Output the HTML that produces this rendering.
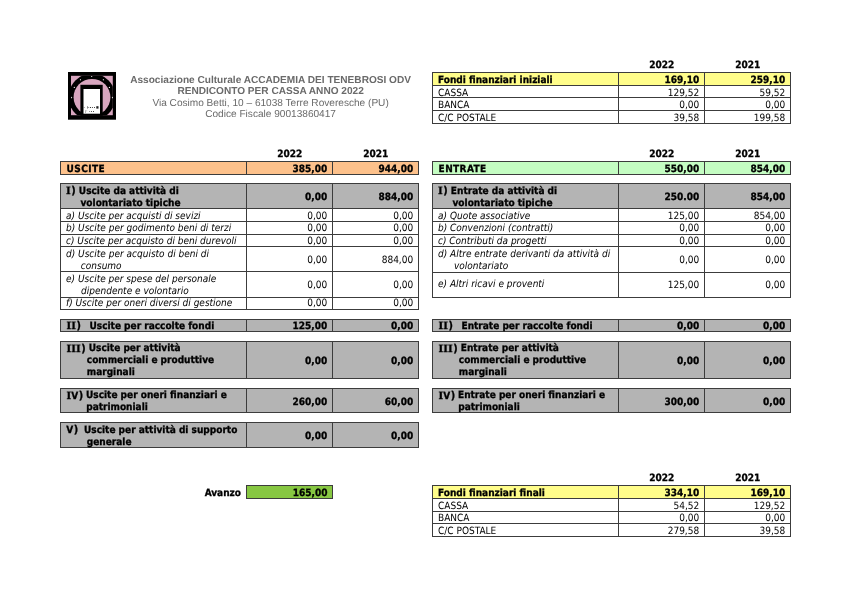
<!DOCTYPE html>
<html><head><meta charset="utf-8"><title>Rendiconto per cassa 2022</title>
<style>
html,body{margin:0;padding:0;background:#fff;}
body{width:850px;height:601px;overflow:hidden;}
svg{display:block;will-change:transform;font-family:"DejaVu Sans Condensed","DejaVu Sans",sans-serif;font-size:10px;}
</style></head><body>
<svg width="850" height="601" viewBox="0 0 850 601" shape-rendering="crispEdges" text-rendering="geometricPrecision">
<rect x="0" y="0" width="850" height="601" fill="#fff"/>

<g shape-rendering="geometricPrecision">
<rect x="68" y="72" width="48" height="47.7" fill="#000"/>
<rect x="71" y="75.8" width="41.8" height="39.4" fill="#d8a6bf"/>
<clipPath id="lc"><rect x="71" y="75.8" width="41.8" height="39.4"/></clipPath>
<g clip-path="url(#lc)">
<circle cx="92" cy="97" r="23.5" fill="#000"/>
<circle cx="92" cy="97.3" r="18.4" fill="#d8a6bf"/>
</g>
<rect x="80.4" y="84.8" width="22.3" height="31" fill="#000"/>
<rect x="83.5" y="89" width="16.5" height="24.7" fill="#fff"/>
<g fill="#fff">
<ellipse cx="91.7" cy="76.6" rx="0.6" ry="0.5"/>
<ellipse cx="80.4" cy="79.8" rx="0.5" ry="0.8"/><ellipse cx="103.3" cy="79.8" rx="0.5" ry="0.8"/>
<ellipse cx="74.3" cy="87.4" rx="0.6" ry="0.6"/><ellipse cx="109.4" cy="87.4" rx="0.6" ry="0.6"/>
<ellipse cx="71.6" cy="97.6" rx="0.5" ry="0.8"/><ellipse cx="112.4" cy="97.6" rx="0.5" ry="0.8"/>
</g>
<g fill="#111">
<circle cx="84.2" cy="107.4" r="0.45"/><rect x="87.2" y="106.2" width="0.8" height="2.4" fill="#777"/><rect x="87.6" y="107" width="1.4" height="0.7" fill="#777"/>
<circle cx="90.4" cy="107.5" r="0.6"/><circle cx="92.4" cy="107.5" r="0.5"/><circle cx="94.5" cy="107.4" r="0.5"/>
<rect x="96.3" y="106.2" width="2.2" height="2.4" fill="#222"/>
<circle cx="89.4" cy="111.4" r="0.45"/><circle cx="91.4" cy="111.4" r="0.5"/><circle cx="93.5" cy="111.4" r="0.5"/>
<rect x="85.2" y="110.2" width="0.7" height="2.8" fill="#999"/><rect x="86" y="110.6" width="1.2" height="0.6" fill="#aaa"/>
</g>
</g>

<text x="270.6" y="82.7" font-weight="bold" text-anchor="middle" font-size="10.1" font-family='"Liberation Sans",Arial,sans-serif' fill="#6a6a6a">Associazione Culturale ACCADEMIA DEI TENEBROSI ODV</text>
<text x="270.6" y="93.7" font-weight="bold" text-anchor="middle" font-size="10.1" font-family='"Liberation Sans",Arial,sans-serif' fill="#6a6a6a">RENDICONTO PER CASSA ANNO 2022</text>
<text x="270.6" y="105.7" text-anchor="middle" font-size="10.1" font-family='"Liberation Sans",Arial,sans-serif' fill="#6a6a6a">Via Cosimo Betti, 10 – 61038 Terre Roveresche (PU)</text>
<text x="270.6" y="117" text-anchor="middle" font-size="10.1" font-family='"Liberation Sans",Arial,sans-serif' fill="#6a6a6a">Codice Fiscale 90013860417</text>
<text x="661.7" y="67.9" font-weight="bold" text-anchor="middle" stroke="#000" stroke-width="0.3">2022</text>
<text x="747.7" y="67.9" font-weight="bold" text-anchor="middle" stroke="#000" stroke-width="0.3">2021</text>
<rect x="432" y="72" width="359" height="13" fill="#fffd8a"/>
<rect x="432" y="72" width="359" height="1" fill="#3c3c3c"/>
<rect x="432" y="85" width="359" height="1" fill="#3c3c3c"/>
<rect x="432" y="97" width="359" height="1" fill="#3c3c3c"/>
<rect x="432" y="110" width="359" height="1" fill="#3c3c3c"/>
<rect x="432" y="123" width="359" height="1" fill="#3c3c3c"/>
<rect x="432" y="72" width="1" height="52" fill="#3c3c3c"/>
<rect x="618" y="72" width="1" height="52" fill="#3c3c3c"/>
<rect x="704" y="72" width="1" height="52" fill="#3c3c3c"/>
<rect x="790" y="72" width="1" height="52" fill="#3c3c3c"/>
<text x="438" y="82.9" font-weight="bold" stroke="#000" stroke-width="0.3">Fondi finanziari iniziali</text>
<text x="699.2" y="82.9" font-weight="bold" text-anchor="end" stroke="#000" stroke-width="0.3">169,10</text>
<text x="785.2" y="82.9" font-weight="bold" text-anchor="end" stroke="#000" stroke-width="0.3">259,10</text>
<text x="438" y="95.8" >CASSA</text>
<text x="699.2" y="95.8" text-anchor="end">129,52</text>
<text x="785.2" y="95.8" text-anchor="end">59,52</text>
<text x="438" y="108.1" >BANCA</text>
<text x="699.2" y="108.1" text-anchor="end">0,00</text>
<text x="785.2" y="108.1" text-anchor="end">0,00</text>
<text x="438" y="120.7" >C/C POSTALE</text>
<text x="699.2" y="120.7" text-anchor="end">39,58</text>
<text x="785.2" y="120.7" text-anchor="end">199,58</text>
<text x="661.7" y="481.2" font-weight="bold" text-anchor="middle" stroke="#000" stroke-width="0.3">2022</text>
<text x="747.7" y="481.2" font-weight="bold" text-anchor="middle" stroke="#000" stroke-width="0.3">2021</text>
<rect x="432" y="485" width="359" height="13" fill="#fffd8a"/>
<rect x="432" y="485" width="359" height="1" fill="#3c3c3c"/>
<rect x="432" y="498" width="359" height="1" fill="#3c3c3c"/>
<rect x="432" y="511" width="359" height="1" fill="#3c3c3c"/>
<rect x="432" y="523" width="359" height="1" fill="#3c3c3c"/>
<rect x="432" y="536" width="359" height="1" fill="#3c3c3c"/>
<rect x="432" y="485" width="1" height="52" fill="#3c3c3c"/>
<rect x="618" y="485" width="1" height="52" fill="#3c3c3c"/>
<rect x="704" y="485" width="1" height="52" fill="#3c3c3c"/>
<rect x="790" y="485" width="1" height="52" fill="#3c3c3c"/>
<text x="438" y="495.8" font-weight="bold" stroke="#000" stroke-width="0.3">Fondi finanziari finali</text>
<text x="699.2" y="495.8" font-weight="bold" text-anchor="end" stroke="#000" stroke-width="0.3">334,10</text>
<text x="785.2" y="495.8" font-weight="bold" text-anchor="end" stroke="#000" stroke-width="0.3">169,10</text>
<text x="438" y="508.9" >CASSA</text>
<text x="699.2" y="508.9" text-anchor="end">54,52</text>
<text x="785.2" y="508.9" text-anchor="end">129,52</text>
<text x="438" y="521.4" >BANCA</text>
<text x="699.2" y="521.4" text-anchor="end">0,00</text>
<text x="785.2" y="521.4" text-anchor="end">0,00</text>
<text x="438" y="534.1" >C/C POSTALE</text>
<text x="699.2" y="534.1" text-anchor="end">279,58</text>
<text x="785.2" y="534.1" text-anchor="end">39,58</text>
<text x="289.7" y="157.4" font-weight="bold" text-anchor="middle" stroke="#000" stroke-width="0.3">2022</text>
<text x="375.7" y="157.4" font-weight="bold" text-anchor="middle" stroke="#000" stroke-width="0.3">2021</text>
<rect x="60" y="161" width="359" height="14" fill="#fdc18b"/>
<rect x="60" y="161" width="359" height="1" fill="#3c3c3c"/>
<rect x="60" y="174" width="359" height="1" fill="#3c3c3c"/>
<rect x="60" y="161" width="1" height="14" fill="#3c3c3c"/>
<rect x="246" y="161" width="1" height="14" fill="#3c3c3c"/>
<rect x="332" y="161" width="1" height="14" fill="#3c3c3c"/>
<rect x="418" y="161" width="1" height="14" fill="#3c3c3c"/>
<text x="66.6" y="171.9" font-weight="bold" letter-spacing="0.4" stroke="#000" stroke-width="0.3">USCITE</text>
<text x="327.2" y="171.8" font-weight="bold" text-anchor="end" stroke="#000" stroke-width="0.3">385,00</text>
<text x="413.2" y="171.8" font-weight="bold" text-anchor="end" stroke="#000" stroke-width="0.3">944,00</text>
<rect x="60" y="183" width="359" height="26" fill="#b4b4b4"/>
<rect x="60" y="183" width="359" height="1" fill="#3c3c3c"/>
<rect x="60" y="208" width="359" height="1" fill="#3c3c3c"/>
<rect x="60" y="183" width="1" height="26" fill="#3c3c3c"/>
<rect x="246" y="183" width="1" height="26" fill="#3c3c3c"/>
<rect x="332" y="183" width="1" height="26" fill="#3c3c3c"/>
<rect x="418" y="183" width="1" height="26" fill="#3c3c3c"/>
<text x="66" y="193.5" font-weight="bold" stroke="#000" stroke-width="0.3"><tspan font-family='"DejaVu Serif",serif'>I</tspan><tspan font-size="10.8" dx="0.6">)</tspan> Uscite da attività di</text>
<text x="80.5" y="206.3" font-weight="bold" stroke="#000" stroke-width="0.3">volontariato tipiche</text>
<text x="327.2" y="200.2" font-weight="bold" text-anchor="end" stroke="#000" stroke-width="0.3">0,00</text>
<text x="413.2" y="200.2" font-weight="bold" text-anchor="end" stroke="#000" stroke-width="0.3">884,00</text>
<rect x="60" y="209" width="359" height="12" fill="#ffffff"/>
<rect x="60" y="221" width="359" height="1" fill="#3c3c3c"/>
<rect x="60" y="208" width="1" height="14" fill="#3c3c3c"/>
<rect x="246" y="208" width="1" height="14" fill="#3c3c3c"/>
<rect x="332" y="208" width="1" height="14" fill="#3c3c3c"/>
<rect x="418" y="208" width="1" height="14" fill="#3c3c3c"/>
<text x="66" y="218.5" font-style="italic">a) Uscite per acquisti di sevizi</text>
<text x="327.2" y="218.8" text-anchor="end">0,00</text>
<text x="413.2" y="218.8" text-anchor="end">0,00</text>
<rect x="60" y="222" width="359" height="12" fill="#ffffff"/>
<rect x="60" y="234" width="359" height="1" fill="#3c3c3c"/>
<rect x="60" y="221" width="1" height="14" fill="#3c3c3c"/>
<rect x="246" y="221" width="1" height="14" fill="#3c3c3c"/>
<rect x="332" y="221" width="1" height="14" fill="#3c3c3c"/>
<rect x="418" y="221" width="1" height="14" fill="#3c3c3c"/>
<text x="66" y="231.2" font-style="italic">b) Uscite per godimento beni di terzi</text>
<text x="327.2" y="231.4" text-anchor="end">0,00</text>
<text x="413.2" y="231.4" text-anchor="end">0,00</text>
<rect x="60" y="235" width="359" height="11" fill="#ffffff"/>
<rect x="60" y="246" width="359" height="1" fill="#3c3c3c"/>
<rect x="60" y="234" width="1" height="13" fill="#3c3c3c"/>
<rect x="246" y="234" width="1" height="13" fill="#3c3c3c"/>
<rect x="332" y="234" width="1" height="13" fill="#3c3c3c"/>
<rect x="418" y="234" width="1" height="13" fill="#3c3c3c"/>
<text x="66" y="243.5" font-style="italic">c) Uscite per acquisto di beni durevoli</text>
<text x="327.2" y="243.7" text-anchor="end">0,00</text>
<text x="413.2" y="243.7" text-anchor="end">0,00</text>
<rect x="60" y="247" width="359" height="24" fill="#ffffff"/>
<rect x="60" y="271" width="359" height="1" fill="#3c3c3c"/>
<rect x="60" y="246" width="1" height="26" fill="#3c3c3c"/>
<rect x="246" y="246" width="1" height="26" fill="#3c3c3c"/>
<rect x="332" y="246" width="1" height="26" fill="#3c3c3c"/>
<rect x="418" y="246" width="1" height="26" fill="#3c3c3c"/>
<text x="66" y="256.5" font-style="italic">d) Uscite per acquisto di beni di</text>
<text x="80.8" y="268.5" font-style="italic">consumo</text>
<text x="327.2" y="263.1" text-anchor="end">0,00</text>
<text x="413.2" y="263.1" text-anchor="end">884,00</text>
<rect x="60" y="272" width="359" height="25" fill="#ffffff"/>
<rect x="60" y="297" width="359" height="1" fill="#3c3c3c"/>
<rect x="60" y="271" width="1" height="27" fill="#3c3c3c"/>
<rect x="246" y="271" width="1" height="27" fill="#3c3c3c"/>
<rect x="332" y="271" width="1" height="27" fill="#3c3c3c"/>
<rect x="418" y="271" width="1" height="27" fill="#3c3c3c"/>
<text x="66" y="281.5" font-style="italic">e) Uscite per spese del personale</text>
<text x="81" y="293.5" font-style="italic">dipendente e volontario</text>
<text x="327.2" y="288" text-anchor="end">0,00</text>
<text x="413.2" y="288" text-anchor="end">0,00</text>
<rect x="60" y="298" width="359" height="11" fill="#ffffff"/>
<rect x="60" y="309" width="359" height="1" fill="#3c3c3c"/>
<rect x="60" y="297" width="1" height="13" fill="#3c3c3c"/>
<rect x="246" y="297" width="1" height="13" fill="#3c3c3c"/>
<rect x="332" y="297" width="1" height="13" fill="#3c3c3c"/>
<rect x="418" y="297" width="1" height="13" fill="#3c3c3c"/>
<text x="66" y="306" font-style="italic">f) Uscite per oneri diversi di gestione</text>
<text x="327.2" y="306.2" text-anchor="end">0,00</text>
<text x="413.2" y="306.2" text-anchor="end">0,00</text>
<rect x="60" y="319" width="359" height="13" fill="#b4b4b4"/>
<rect x="60" y="319" width="359" height="1" fill="#3c3c3c"/>
<rect x="60" y="331" width="359" height="1" fill="#3c3c3c"/>
<rect x="60" y="319" width="1" height="13" fill="#3c3c3c"/>
<rect x="246" y="319" width="1" height="13" fill="#3c3c3c"/>
<rect x="332" y="319" width="1" height="13" fill="#3c3c3c"/>
<rect x="418" y="319" width="1" height="13" fill="#3c3c3c"/>
<text x="66.6" y="328.8" font-weight="bold" stroke="#000" stroke-width="0.3"><tspan font-family='"DejaVu Serif",serif'>I</tspan><tspan font-family='"DejaVu Serif",serif'>I</tspan><tspan font-size="10.8" dx="0.6">)</tspan></text>
<text x="89.5" y="328.5" font-weight="bold" stroke="#000" stroke-width="0.3">Uscite per raccolte fondi</text>
<text x="327.2" y="328.6" font-weight="bold" text-anchor="end" stroke="#000" stroke-width="0.3">125,00</text>
<text x="413.2" y="328.6" font-weight="bold" text-anchor="end" stroke="#000" stroke-width="0.3">0,00</text>
<rect x="60" y="341" width="359" height="38" fill="#b4b4b4"/>
<rect x="60" y="341" width="359" height="1" fill="#3c3c3c"/>
<rect x="60" y="378" width="359" height="1" fill="#3c3c3c"/>
<rect x="60" y="341" width="1" height="38" fill="#3c3c3c"/>
<rect x="246" y="341" width="1" height="38" fill="#3c3c3c"/>
<rect x="332" y="341" width="1" height="38" fill="#3c3c3c"/>
<rect x="418" y="341" width="1" height="38" fill="#3c3c3c"/>
<text x="66.6" y="351.6" font-weight="bold" stroke="#000" stroke-width="0.3"><tspan font-family='"DejaVu Serif",serif'>I</tspan><tspan font-family='"DejaVu Serif",serif'>I</tspan><tspan font-family='"DejaVu Serif",serif'>I</tspan><tspan font-size="10.8" dx="0.6">)</tspan></text>
<text x="88.8" y="351.2" font-weight="bold" stroke="#000" stroke-width="0.3">Uscite per attività</text>
<text x="86.8" y="363.4" font-weight="bold" stroke="#000" stroke-width="0.3">commerciali e produttive</text>
<text x="86.8" y="375.3" font-weight="bold" stroke="#000" stroke-width="0.3">marginali</text>
<text x="327.2" y="364" font-weight="bold" text-anchor="end" stroke="#000" stroke-width="0.3">0,00</text>
<text x="413.2" y="364" font-weight="bold" text-anchor="end" stroke="#000" stroke-width="0.3">0,00</text>
<rect x="60" y="388" width="359" height="25" fill="#b4b4b4"/>
<rect x="60" y="388" width="359" height="1" fill="#3c3c3c"/>
<rect x="60" y="412" width="359" height="1" fill="#3c3c3c"/>
<rect x="60" y="388" width="1" height="25" fill="#3c3c3c"/>
<rect x="246" y="388" width="1" height="25" fill="#3c3c3c"/>
<rect x="332" y="388" width="1" height="25" fill="#3c3c3c"/>
<rect x="418" y="388" width="1" height="25" fill="#3c3c3c"/>
<text x="66.6" y="398.6" font-weight="bold" stroke="#000" stroke-width="0.3"><tspan font-family='"DejaVu Serif",serif'>I</tspan>V<tspan font-size="10.8" dx="0.6">)</tspan></text>
<text x="86" y="398.3" font-weight="bold" stroke="#000" stroke-width="0.3">Uscite per oneri finanziari e</text>
<text x="86.2" y="409.8" font-weight="bold" stroke="#000" stroke-width="0.3">patrimoniali</text>
<text x="327.2" y="404.5" font-weight="bold" text-anchor="end" stroke="#000" stroke-width="0.3">260,00</text>
<text x="413.2" y="404.5" font-weight="bold" text-anchor="end" stroke="#000" stroke-width="0.3">60,00</text>
<rect x="60" y="422" width="359" height="26" fill="#b4b4b4"/>
<rect x="60" y="422" width="359" height="1" fill="#3c3c3c"/>
<rect x="60" y="447" width="359" height="1" fill="#3c3c3c"/>
<rect x="60" y="422" width="1" height="26" fill="#3c3c3c"/>
<rect x="246" y="422" width="1" height="26" fill="#3c3c3c"/>
<rect x="332" y="422" width="1" height="26" fill="#3c3c3c"/>
<rect x="418" y="422" width="1" height="26" fill="#3c3c3c"/>
<text x="66.2" y="432.7" font-weight="bold" stroke="#000" stroke-width="0.3">V<tspan font-size="10.8" dx="0.6">)</tspan></text>
<text x="84" y="432.5" font-weight="bold" stroke="#000" stroke-width="0.3">Uscite per attività di supporto</text>
<text x="86.8" y="444.5" font-weight="bold" stroke="#000" stroke-width="0.3">generale</text>
<text x="327.2" y="439" font-weight="bold" text-anchor="end" stroke="#000" stroke-width="0.3">0,00</text>
<text x="413.2" y="439" font-weight="bold" text-anchor="end" stroke="#000" stroke-width="0.3">0,00</text>
<text x="661.7" y="157.4" font-weight="bold" text-anchor="middle" stroke="#000" stroke-width="0.3">2022</text>
<text x="747.7" y="157.4" font-weight="bold" text-anchor="middle" stroke="#000" stroke-width="0.3">2021</text>
<rect x="432" y="161" width="359" height="14" fill="#c4fdc2"/>
<rect x="432" y="161" width="359" height="1" fill="#3c3c3c"/>
<rect x="432" y="174" width="359" height="1" fill="#3c3c3c"/>
<rect x="432" y="161" width="1" height="14" fill="#3c3c3c"/>
<rect x="618" y="161" width="1" height="14" fill="#3c3c3c"/>
<rect x="704" y="161" width="1" height="14" fill="#3c3c3c"/>
<rect x="790" y="161" width="1" height="14" fill="#3c3c3c"/>
<text x="438.6" y="171.9" font-weight="bold" letter-spacing="0.4" stroke="#000" stroke-width="0.3">ENTRATE</text>
<text x="699.2" y="171.8" font-weight="bold" text-anchor="end" stroke="#000" stroke-width="0.3">550,00</text>
<text x="785.2" y="171.8" font-weight="bold" text-anchor="end" stroke="#000" stroke-width="0.3">854,00</text>
<rect x="432" y="183" width="359" height="26" fill="#b4b4b4"/>
<rect x="432" y="183" width="359" height="1" fill="#3c3c3c"/>
<rect x="432" y="208" width="359" height="1" fill="#3c3c3c"/>
<rect x="432" y="183" width="1" height="26" fill="#3c3c3c"/>
<rect x="618" y="183" width="1" height="26" fill="#3c3c3c"/>
<rect x="704" y="183" width="1" height="26" fill="#3c3c3c"/>
<rect x="790" y="183" width="1" height="26" fill="#3c3c3c"/>
<text x="438" y="193.5" font-weight="bold" stroke="#000" stroke-width="0.3"><tspan font-family='"DejaVu Serif",serif'>I</tspan><tspan font-size="10.8" dx="0.6">)</tspan> Entrate da attività di</text>
<text x="452.5" y="206.3" font-weight="bold" stroke="#000" stroke-width="0.3">volontariato tipiche</text>
<text x="699.2" y="200.2" font-weight="bold" text-anchor="end" stroke="#000" stroke-width="0.3">250.00</text>
<text x="785.2" y="200.2" font-weight="bold" text-anchor="end" stroke="#000" stroke-width="0.3">854,00</text>
<rect x="432" y="209" width="359" height="12" fill="#ffffff"/>
<rect x="432" y="221" width="359" height="1" fill="#3c3c3c"/>
<rect x="432" y="208" width="1" height="14" fill="#3c3c3c"/>
<rect x="618" y="208" width="1" height="14" fill="#3c3c3c"/>
<rect x="704" y="208" width="1" height="14" fill="#3c3c3c"/>
<rect x="790" y="208" width="1" height="14" fill="#3c3c3c"/>
<text x="438" y="218.5" font-style="italic">a) Quote associative</text>
<text x="699.2" y="218.8" text-anchor="end">125,00</text>
<text x="785.2" y="218.8" text-anchor="end">854,00</text>
<rect x="432" y="222" width="359" height="12" fill="#ffffff"/>
<rect x="432" y="234" width="359" height="1" fill="#3c3c3c"/>
<rect x="432" y="221" width="1" height="14" fill="#3c3c3c"/>
<rect x="618" y="221" width="1" height="14" fill="#3c3c3c"/>
<rect x="704" y="221" width="1" height="14" fill="#3c3c3c"/>
<rect x="790" y="221" width="1" height="14" fill="#3c3c3c"/>
<text x="438" y="231.2" font-style="italic">b) Convenzioni (contratti)</text>
<text x="699.2" y="231.4" text-anchor="end">0,00</text>
<text x="785.2" y="231.4" text-anchor="end">0,00</text>
<rect x="432" y="235" width="359" height="11" fill="#ffffff"/>
<rect x="432" y="246" width="359" height="1" fill="#3c3c3c"/>
<rect x="432" y="234" width="1" height="13" fill="#3c3c3c"/>
<rect x="618" y="234" width="1" height="13" fill="#3c3c3c"/>
<rect x="704" y="234" width="1" height="13" fill="#3c3c3c"/>
<rect x="790" y="234" width="1" height="13" fill="#3c3c3c"/>
<text x="438" y="243.5" font-style="italic">c) Contributi da progetti</text>
<text x="699.2" y="243.7" text-anchor="end">0,00</text>
<text x="785.2" y="243.7" text-anchor="end">0,00</text>
<rect x="432" y="247" width="359" height="25" fill="#ffffff"/>
<rect x="432" y="272" width="359" height="1" fill="#3c3c3c"/>
<rect x="432" y="246" width="1" height="27" fill="#3c3c3c"/>
<rect x="618" y="246" width="1" height="27" fill="#3c3c3c"/>
<rect x="704" y="246" width="1" height="27" fill="#3c3c3c"/>
<rect x="790" y="246" width="1" height="27" fill="#3c3c3c"/>
<text x="438" y="256.6" font-style="italic">d) Altre entrate derivanti da attività di</text>
<text x="454" y="268.7" font-style="italic">volontariato</text>
<text x="699.2" y="263.3" text-anchor="end">0,00</text>
<text x="785.2" y="263.3" text-anchor="end">0,00</text>
<rect x="432" y="273" width="359" height="24" fill="#ffffff"/>
<rect x="432" y="297" width="359" height="1" fill="#3c3c3c"/>
<rect x="432" y="272" width="1" height="26" fill="#3c3c3c"/>
<rect x="618" y="272" width="1" height="26" fill="#3c3c3c"/>
<rect x="704" y="272" width="1" height="26" fill="#3c3c3c"/>
<rect x="790" y="272" width="1" height="26" fill="#3c3c3c"/>
<text x="438" y="287" font-style="italic">e) Altri ricavi e proventi</text>
<text x="699.2" y="288" text-anchor="end">125,00</text>
<text x="785.2" y="288" text-anchor="end">0,00</text>
<rect x="432" y="319" width="359" height="13" fill="#b4b4b4"/>
<rect x="432" y="319" width="359" height="1" fill="#3c3c3c"/>
<rect x="432" y="331" width="359" height="1" fill="#3c3c3c"/>
<rect x="432" y="319" width="1" height="13" fill="#3c3c3c"/>
<rect x="618" y="319" width="1" height="13" fill="#3c3c3c"/>
<rect x="704" y="319" width="1" height="13" fill="#3c3c3c"/>
<rect x="790" y="319" width="1" height="13" fill="#3c3c3c"/>
<text x="438.6" y="328.8" font-weight="bold" stroke="#000" stroke-width="0.3"><tspan font-family='"DejaVu Serif",serif'>I</tspan><tspan font-family='"DejaVu Serif",serif'>I</tspan><tspan font-size="10.8" dx="0.6">)</tspan></text>
<text x="461.5" y="328.5" font-weight="bold" stroke="#000" stroke-width="0.3">Entrate per raccolte fondi</text>
<text x="699.2" y="328.6" font-weight="bold" text-anchor="end" stroke="#000" stroke-width="0.3">0,00</text>
<text x="785.2" y="328.6" font-weight="bold" text-anchor="end" stroke="#000" stroke-width="0.3">0,00</text>
<rect x="432" y="341" width="359" height="38" fill="#b4b4b4"/>
<rect x="432" y="341" width="359" height="1" fill="#3c3c3c"/>
<rect x="432" y="378" width="359" height="1" fill="#3c3c3c"/>
<rect x="432" y="341" width="1" height="38" fill="#3c3c3c"/>
<rect x="618" y="341" width="1" height="38" fill="#3c3c3c"/>
<rect x="704" y="341" width="1" height="38" fill="#3c3c3c"/>
<rect x="790" y="341" width="1" height="38" fill="#3c3c3c"/>
<text x="438.6" y="351.6" font-weight="bold" stroke="#000" stroke-width="0.3"><tspan font-family='"DejaVu Serif",serif'>I</tspan><tspan font-family='"DejaVu Serif",serif'>I</tspan><tspan font-family='"DejaVu Serif",serif'>I</tspan><tspan font-size="10.8" dx="0.6">)</tspan></text>
<text x="460.8" y="351.2" font-weight="bold" stroke="#000" stroke-width="0.3">Entrate per attività</text>
<text x="458.8" y="363.4" font-weight="bold" stroke="#000" stroke-width="0.3">commerciali e produttive</text>
<text x="458.8" y="375.3" font-weight="bold" stroke="#000" stroke-width="0.3">marginali</text>
<text x="699.2" y="364" font-weight="bold" text-anchor="end" stroke="#000" stroke-width="0.3">0,00</text>
<text x="785.2" y="364" font-weight="bold" text-anchor="end" stroke="#000" stroke-width="0.3">0,00</text>
<rect x="432" y="388" width="359" height="25" fill="#b4b4b4"/>
<rect x="432" y="388" width="359" height="1" fill="#3c3c3c"/>
<rect x="432" y="412" width="359" height="1" fill="#3c3c3c"/>
<rect x="432" y="388" width="1" height="25" fill="#3c3c3c"/>
<rect x="618" y="388" width="1" height="25" fill="#3c3c3c"/>
<rect x="704" y="388" width="1" height="25" fill="#3c3c3c"/>
<rect x="790" y="388" width="1" height="25" fill="#3c3c3c"/>
<text x="438.6" y="398.6" font-weight="bold" stroke="#000" stroke-width="0.3"><tspan font-family='"DejaVu Serif",serif'>I</tspan>V<tspan font-size="10.8" dx="0.6">)</tspan></text>
<text x="458" y="398.3" font-weight="bold" stroke="#000" stroke-width="0.3">Entrate per oneri finanziari e</text>
<text x="458.2" y="409.8" font-weight="bold" stroke="#000" stroke-width="0.3">patrimoniali</text>
<text x="699.2" y="404.5" font-weight="bold" text-anchor="end" stroke="#000" stroke-width="0.3">300,00</text>
<text x="785.2" y="404.5" font-weight="bold" text-anchor="end" stroke="#000" stroke-width="0.3">0,00</text>
<rect x="246" y="485" width="87" height="14" fill="#87c742"/>
<rect x="246" y="485" width="87" height="1" fill="#3c3c3c"/>
<rect x="246" y="498" width="87" height="1" fill="#3c3c3c"/>
<rect x="246" y="485" width="1" height="14" fill="#3c3c3c"/>
<rect x="332" y="485" width="1" height="14" fill="#3c3c3c"/>
<text x="241" y="495.6" font-weight="bold" text-anchor="end" stroke="#000" stroke-width="0.3">Avanzo</text>
<text x="327.5" y="495.6" font-weight="bold" text-anchor="end" stroke="#000" stroke-width="0.3">165,00</text>
</svg>
</body></html>
